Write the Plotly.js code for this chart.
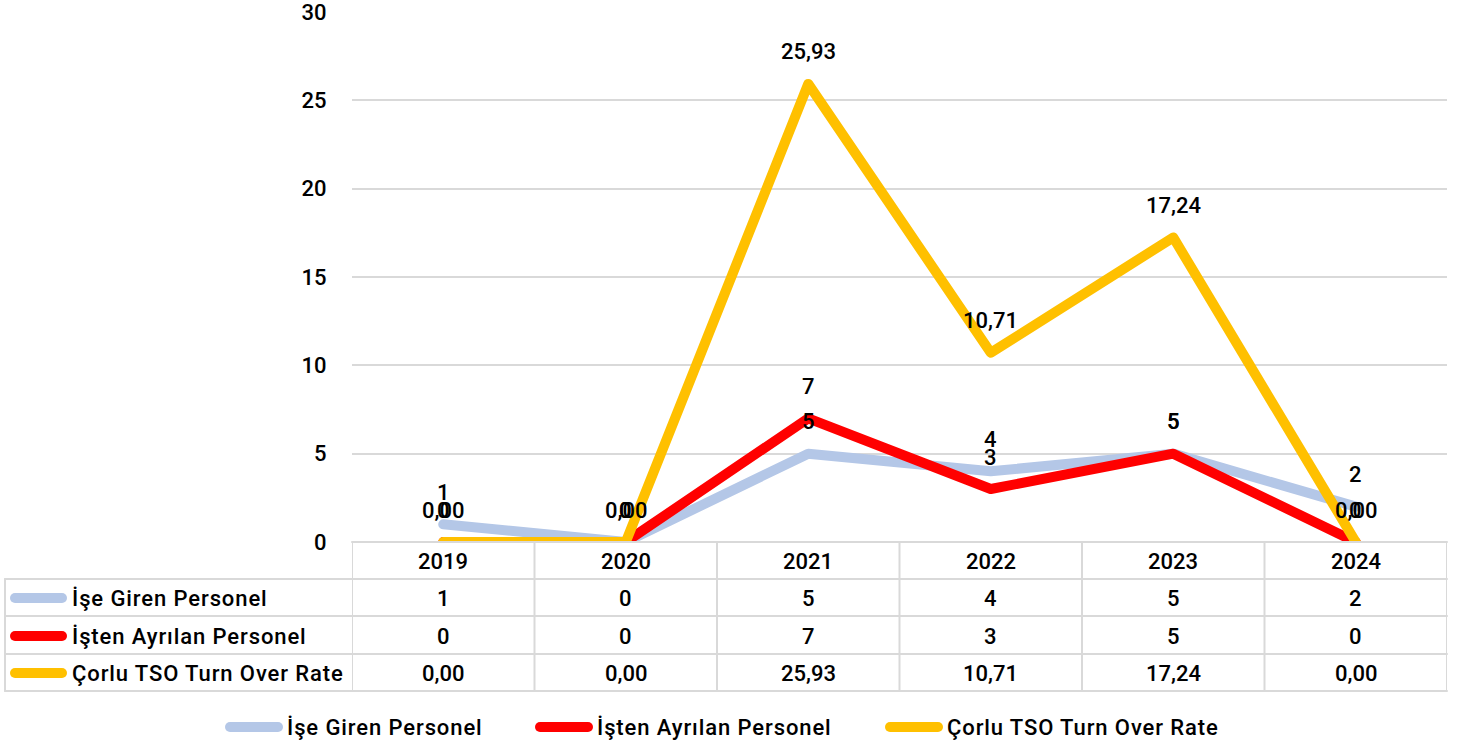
<!DOCTYPE html>
<html>
<head>
<meta charset="utf-8">
<script src="https://cdn.plot.ly/plotly-3.0.1.min.js"></script>
<style>
  html, body { margin: 0; padding: 0; background: #fff; }
  #chart { width: 1463px; height: 749px; }
  .scatterlayer path.js-line { stroke-linecap: round; stroke-linejoin: round; }
  .shapelayer path { stroke-linecap: round; }
</style>
</head>
<body>
<div id="chart"></div>
<script>
// ---- data ----
const years = ['2019', '2020', '2021', '2022', '2023', '2024'];
const iseGiren = [1, 0, 5, 4, 5, 2];
const istenAyrilan = [0, 0, 7, 3, 5, 0];
const turnOverRate = [0, 0, 25.93, 10.71, 17.24, 0];
const seriesNames = ['İşe Giren Personel', 'İşten Ayrılan Personel', 'Çorlu TSO Turn Over Rate'];
const yTickVals = [0, 5, 10, 15, 20, 25, 30];

// ---- styling ----
const W = 1463, H = 749;
const M = { l: 352, r: 16, t: 12, b: 207 };
const colors = ['#b4c7e7', '#ff0000', '#ffc000'];
const FONT = 'Roboto, "Noto Sans", sans-serif';
const fs = 22;
const gridCol = '#d9d9d9';
const txtFont = { family: FONT, size: fs, color: '#000', weight: 500 };

const fmtInt = v => String(v);
const fmtDec = v => v.toFixed(2).replace('.', ',');
const spaced = t => '<span style="letter-spacing:0.9px">' + t + '</span>';
const series = [
  { y: iseGiren, fmt: fmtInt },
  { y: istenAyrilan, fmt: fmtInt },
  { y: turnOverRate, fmt: fmtDec }
];

const plotW = W - M.l - M.r, plotH = H - M.t - M.b;
const px = X => (X - M.l) / plotW;
const py = Y => (H - M.b - Y) / plotH;
const idx = years.map((_, j) => j);

const traces = series.map((s, i) => ({
  type: 'scatter',
  mode: 'lines',
  x: idx,
  y: s.y,
  name: seriesNames[i],
  text: years,
  line: { color: colors[i], width: 10 },
  hovertemplate: '%{text}: %{y}<extra>' + seriesNames[i] + '</extra>'
}));

const annotations = [];
const shapes = [];

// data labels
series.forEach((s, i) => {
  s.y.forEach((v, j) => {
    annotations.push({
      x: j, y: v, xref: 'x', yref: 'y',
      text: s.fmt(v), showarrow: false, yshift: 32,
      font: txtFont
    });
  });
});

// table geometry (pixel rows)
const rowLines = [542, 579, 616, 654, 691];
const rowCenters = [561, 598, 636, 673];
const leftX = 5;

shapes.push({ type: 'line', xref: 'paper', yref: 'paper', x0: 0, x1: 1, y0: py(542), y1: py(542),
  line: { color: gridCol, width: 2 } });
rowLines.slice(1).forEach(Y => {
  shapes.push({ type: 'line', xref: 'paper', yref: 'paper', x0: px(leftX), x1: 1, y0: py(Y), y1: py(Y),
    line: { color: gridCol, width: 2 } });
});
shapes.push({ type: 'line', xref: 'paper', yref: 'paper', x0: px(leftX), x1: px(leftX), y0: py(579), y1: py(691),
  line: { color: gridCol, width: 2 } });
for (let k = 0; k <= years.length; k++) {
  shapes.push({ type: 'line', xref: 'x', yref: 'paper', x0: k - 0.5, x1: k - 0.5, y0: py(542), y1: py(691),
    line: { color: gridCol, width: 2 } });
}

// header row: years
years.forEach((yr, j) => {
  annotations.push({ x: j, xref: 'x', yref: 'paper', y: py(rowCenters[0]), yanchor: 'middle',
    text: yr, showarrow: false, font: txtFont });
});
// body rows
series.forEach((s, i) => {
  const Yc = rowCenters[i + 1];
  shapes.push({ type: 'line', xref: 'paper', yref: 'paper', x0: px(15), x1: px(62), y0: py(Yc), y1: py(Yc),
    line: { color: colors[i], width: 10 } });
  annotations.push({ x: px(70), xref: 'paper', xanchor: 'left', y: py(Yc), yref: 'paper', yanchor: 'middle',
    text: spaced(seriesNames[i]), showarrow: false, font: txtFont });
  s.y.forEach((v, j) => {
    annotations.push({ x: j, xref: 'x', y: py(Yc), yref: 'paper', yanchor: 'middle',
      text: s.fmt(v), showarrow: false, font: txtFont });
  });
});

// bottom legend
const legendSampleX = [230, 540, 890];
const legendY = 727;
seriesNames.forEach((nm, i) => {
  const x0 = legendSampleX[i];
  shapes.push({ type: 'line', xref: 'paper', yref: 'paper', x0: px(x0), x1: px(x0 + 48),
    y0: py(legendY), y1: py(legendY), line: { color: colors[i], width: 10 } });
  annotations.push({ x: px(x0 + 55), xref: 'paper', xanchor: 'left', y: py(legendY), yref: 'paper',
    yanchor: 'middle', text: spaced(nm), showarrow: false, font: txtFont });
});

const layout = {
  width: W, height: H,
  margin: M,
  paper_bgcolor: '#fff', plot_bgcolor: '#fff',
  font: txtFont,
  showlegend: false,
  xaxis: {
    range: [-0.5, years.length - 0.5],
    showticklabels: false, showgrid: false, zeroline: false, showline: false, ticks: ''
  },
  yaxis: {
    range: [0, 30], tickvals: yTickVals, ticktext: yTickVals.map(String),
    showgrid: true, gridcolor: gridCol, gridwidth: 1.5,
    zeroline: false, showline: false,
    ticks: 'outside', ticklen: 20, tickcolor: 'rgba(0,0,0,0)',
    ticklabeloverflow: 'allow',
    tickfont: txtFont
  },
  shapes: shapes,
  annotations: annotations,
  hovermode: 'closest'
};

Plotly.newPlot('chart', traces, layout, { displayModeBar: false, responsive: false });
</script>
</body>
</html>
